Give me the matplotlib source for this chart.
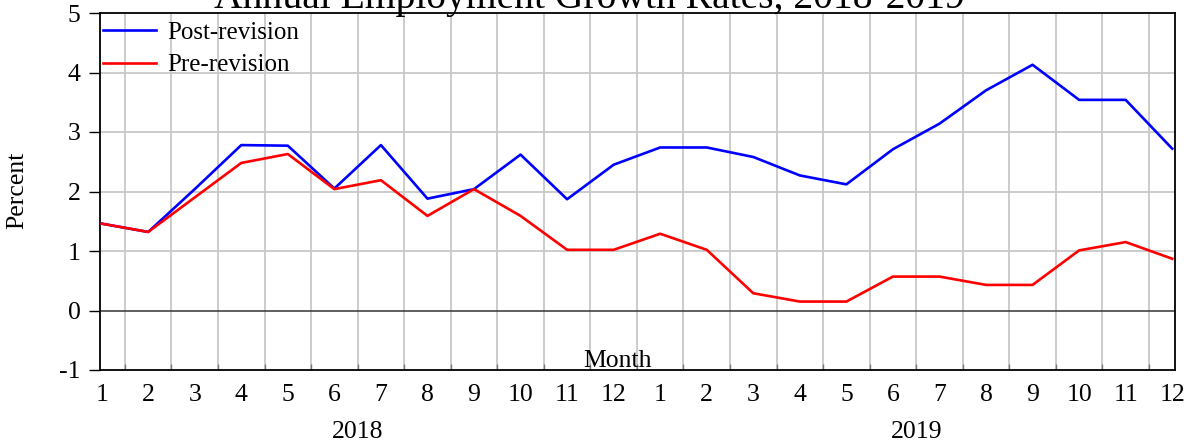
import matplotlib
matplotlib.use("Agg")
import matplotlib.pyplot as plt
from matplotlib.ticker import FixedLocator
import matplotlib.transforms as mtransforms

# ---- data ----
months = list(range(1, 13)) + list(range(1, 13))
years = ["2018", "2019"]
post_revision = [1.46, 1.32, 2.04, 2.78, 2.77, 2.05, 2.78, 1.88, 2.04, 2.62, 1.87, 2.45,
                 2.74, 2.74, 2.58, 2.27, 2.12, 2.71, 3.14, 3.70, 4.13, 3.54, 3.54, 2.72]
pre_revision = [1.46, 1.32, 1.90, 2.48, 2.63, 2.04, 2.19, 1.59, 2.04, 1.59, 1.02, 1.02,
                1.29, 1.02, 0.29, 0.15, 0.15, 0.57, 0.57, 0.43, 0.43, 1.01, 1.15, 0.87]
title = "Annual Employment Growth Rates, 2018-2019"

plt.rcParams['font.family'] = ['Liberation Serif', 'DejaVu Serif']
plt.rcParams['axes.unicode_minus'] = False
FS = 18.5
LFS = 18

W, H = 1190, 442
fig = plt.figure(figsize=(W / 100, H / 100), dpi=100)
ax = fig.add_axes([100 / W, (H - 370) / H, 1075 / W, 357 / H])

x = list(range(1, len(post_revision) + 1))
ax.plot(x, post_revision, color=(0, 0, 1), lw=1.9, label="Post-revision", zorder=3)
ax.plot(x, pre_revision, color=(1, 0, 0), lw=1.9, label="Pre-revision", zorder=3)

ax.set_xlim(0.965, 24.06)
ax.set_ylim(-1, 5)

# grid
for gx in [i + 0.5 for i in range(1, 24)]:
    ax.axvline(gx, color="#c8c8c8", lw=1.3, zorder=1)
for gy in [1, 2, 3, 4]:
    ax.axhline(gy, color="#c8c8c8", lw=1.3, zorder=1)
ax.axhline(0, color="#333333", lw=1.1, zorder=2)

# ticks
ax.set_xticks(x)
ax.set_xticklabels([str(m) for m in months])
ax.xaxis.set_minor_locator(FixedLocator([i + 0.5 for i in range(1, 24)]))
ax.tick_params(axis="x", which="major", length=0, pad=10, labelsize=FS)
ax.tick_params(axis="x", which="minor", direction="in", length=4, width=1, color="#777777")
ax.set_yticks([-1, 0, 1, 2, 3, 4, 5])
ax.tick_params(axis="y", which="major", direction="out", length=8, width=1,
               pad=6.0, labelsize=FS)
for s in ax.spines.values():
    s.set_linewidth(1.3)
    s.set_color("black")

# year labels
trans = mtransforms.blended_transform_factory(ax.transData, ax.transAxes)
ax.text(6.5, (370 - 432) / 357, years[0], transform=trans, ha="center", va="center",
        fontsize=FS)
ax.text(18.5, (370 - 432) / 357, years[1], transform=trans, ha="center", va="center",
        fontsize=FS)

# legend
ax.legend(loc="upper left", bbox_to_anchor=(0.0, 0.985), frameon=False, fontsize=LFS,
          handlelength=2.1, handletextpad=0.45, labelspacing=0.4, borderaxespad=0.0,
          borderpad=0.12)

# texts
fig.text(589 / W, 1 - 8 / H, title, ha="center", va="baseline", fontsize=28.5)
fig.text(17.5 / W, 1 - 190 / H, "Percent", rotation=90, ha="center", va="center",
         fontsize=FS)
fig.text(618 / W, 1 - 367 / H, "Month", ha="center", va="baseline", fontsize=FS)

fig.savefig("out.png", dpi=100)
